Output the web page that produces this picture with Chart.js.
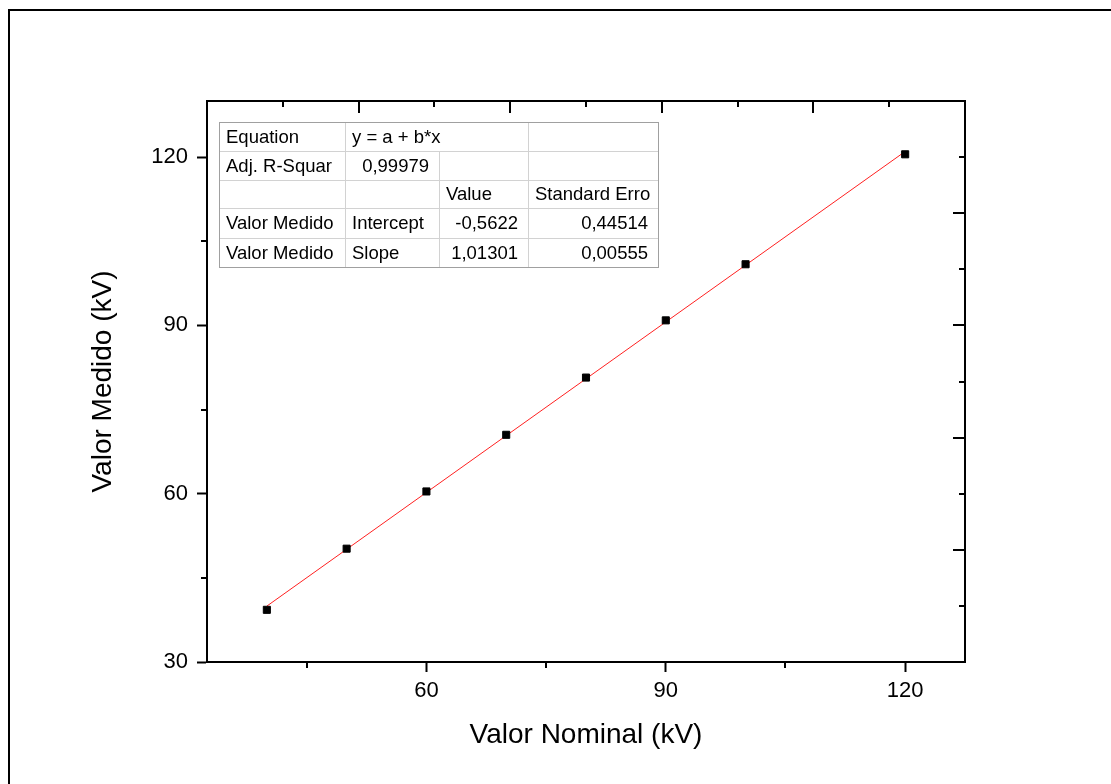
<!DOCTYPE html>
<html>
<head>
<meta charset="utf-8">
<script src="https://cdn.jsdelivr.net/npm/chart.js@4/dist/chart.umd.min.js"></script>
<style>
html, body { margin: 0; padding: 0; background: #fff; overflow: hidden; }
#wrap { position: relative; width: 1111px; height: 784px; }
#frame { position: absolute; left: 8px; top: 9px; width: 1200px; height: 900px; border: 2px solid #000; }
canvas { position: absolute; left: 0; top: 0; }
</style>
</head>
<body>
<div id="wrap">
  <div id="frame"></div>
  <canvas id="c" width="1111" height="784"></canvas>
</div>
<script>
// measured points
var nominal = [40, 50, 60, 70, 80, 90, 100, 120];
var measured = [39.3, 50.2, 60.4, 70.5, 80.7, 90.9, 100.9, 120.5];

// linear fit end points (y = -0.5622 + 1.01301 x)
var fitX = [40, 120];
var fitY = [39.96, 121.0];

// axis ticks
var xTicks = [60, 90, 120];
var xMinor = [45, 75, 105];
var yTicks = [30, 60, 90, 120];
var yMinor = [45, 75, 105];
var topMajor = [20, 40, 60, 80];
var topMinor = [10, 30, 50, 70, 90];
var rightMajor = [50, 70, 90, 110];
var rightMinor = [40, 60, 80, 100, 120];

// fit result table
var tableRows = [
  ['Equation', 'y = a + b*x', '', ''],
  ['Adj. R-Squar', '0,99979', '', ''],
  ['', '', 'Value', 'Standard Erro'],
  ['Valor Medido', 'Intercept', '-0,5622', '0,44514'],
  ['Valor Medido', 'Slope', '1,01301', '0,00555']
];

var FONT = '"Liberation Sans", Arial, sans-serif';

function pts(xs, ys) {
  var out = [];
  for (var i = 0; i < xs.length; i++) out.push({x: xs[i], y: ys[i]});
  return out;
}

var extraTicks = {
  id: 'extraTicks',
  afterDraw: function (chart) {
    var ctx = chart.ctx, a = chart.chartArea;
    var sx = chart.scales.x, sy = chart.scales.y, sx2 = chart.scales.x2, sy2 = chart.scales.y2;
    ctx.save();
    ctx.strokeStyle = '#000';
    ctx.lineWidth = 2;
    ctx.beginPath();
    xMinor.forEach(function (v) {
      var p = Math.round(sx.getPixelForValue(v));
      ctx.moveTo(p, a.bottom); ctx.lineTo(p, a.bottom + 6);
    });
    yMinor.forEach(function (v) {
      var p = Math.round(sy.getPixelForValue(v));
      ctx.moveTo(a.left, p); ctx.lineTo(a.left - 6, p);
    });
    topMajor.forEach(function (v) {
      var p = Math.round(sx2.getPixelForValue(v));
      ctx.moveTo(p, a.top); ctx.lineTo(p, a.top + 12);
    });
    topMinor.forEach(function (v) {
      var p = Math.round(sx2.getPixelForValue(v));
      ctx.moveTo(p, a.top); ctx.lineTo(p, a.top + 6);
    });
    rightMajor.forEach(function (v) {
      var p = Math.round(sy2.getPixelForValue(v));
      ctx.moveTo(a.right, p); ctx.lineTo(a.right - 12, p);
    });
    rightMinor.forEach(function (v) {
      var p = Math.round(sy2.getPixelForValue(v));
      ctx.moveTo(a.right, p); ctx.lineTo(a.right - 6, p);
    });
    ctx.stroke();

    // table
    var cx = [219, 345, 439, 528, 658];
    var ry = [122, 151, 180, 208, 238, 267];
    ctx.fillStyle = '#fff';
    ctx.fillRect(cx[0], ry[0], cx[4] - cx[0], ry[5] - ry[0]);
    ctx.strokeStyle = '#d2d2d2';
    ctx.lineWidth = 1;
    ctx.beginPath();
    for (var r = 1; r < 5; r++) {
      ctx.moveTo(cx[0], ry[r] + 0.5); ctx.lineTo(cx[4], ry[r] + 0.5);
    }
    for (var c = 1; c < 4; c++) {
      var y0 = (c === 2) ? ry[1] : ry[0];
      ctx.moveTo(cx[c] + 0.5, y0); ctx.lineTo(cx[c] + 0.5, ry[5]);
    }
    ctx.stroke();
    ctx.strokeStyle = '#a0a0a0';
    ctx.strokeRect(cx[0] + 0.5, ry[0] + 0.5, cx[4] - cx[0], ry[5] - ry[0]);

    ctx.fillStyle = '#000';
    ctx.font = '18.5px ' + FONT;
    ctx.textBaseline = 'middle';
    tableRows.forEach(function (row, r) {
      var ym = (ry[r] + ry[r + 1]) / 2 + 1;
      row.forEach(function (txt, c) {
        if (!txt) return;
        var right = (r === 1 && c === 1) || (r >= 3 && c >= 2);
        if (right) {
          ctx.textAlign = 'right';
          ctx.fillText(txt, cx[c + 1] - (c === 3 ? 10 : 10), ym);
        } else {
          ctx.textAlign = 'left';
          ctx.fillText(txt, cx[c] + 7, ym);
        }
      });
    });
    ctx.restore();
  }
};

new Chart(document.getElementById('c').getContext('2d'), {
  type: 'scatter',
  data: {
    datasets: [{
      label: 'Valor Medido',
      data: pts(nominal, measured),
      pointStyle: 'rect',
      pointRadius: 5,
      backgroundColor: '#000',
      borderColor: '#000',
      borderWidth: 1
    }, {
      label: 'Linear Fit',
      data: pts(fitX, fitY),
      showLine: true,
      borderColor: '#ff2020',
      borderWidth: 1,
      pointRadius: 0
    }]
  },
  options: {
    responsive: false,
    animation: false,
    layout: { padding: 0 },
    plugins: { legend: { display: false }, tooltip: { enabled: false } },
    scales: {
      x: {
        type: 'linear', position: 'bottom', min: 32.5, max: 127.5,
        afterBuildTicks: function (s) { s.ticks = xTicks.map(function (v) { return {value: v}; }); },
        afterFit: function (s) { s.height = 122; },
        grid: { display: true, drawOnChartArea: false, drawTicks: true, tickLength: 10, tickWidth: 2, tickColor: '#000' },
        border: { display: true, color: '#000', width: 2 },
        ticks: { color: '#000', font: { family: FONT, size: 22 }, padding: 6, maxRotation: 0, autoSkip: false },
        title: { display: true, text: 'Valor Nominal (kV)', color: '#000', font: { family: FONT, size: 28 }, padding: { top: 32, bottom: 32 } }
      },
      y: {
        type: 'linear', position: 'left', min: 30, max: 130,
        afterBuildTicks: function (s) { s.ticks = yTicks.map(function (v) { return {value: v}; }); },
        afterFit: function (s) { s.width = 207; },
        grid: { display: true, drawOnChartArea: false, drawTicks: true, tickLength: 10, tickWidth: 2, tickColor: '#000' },
        border: { display: true, color: '#000', width: 2 },
        ticks: { color: '#000', font: { family: FONT, size: 22 }, padding: 9, autoSkip: false },
        title: { display: true, text: 'Valor Medido (kV)', color: '#000', font: { family: FONT, size: 28 }, padding: { top: 86, bottom: 86 } }
      },
      x2: {
        type: 'linear', position: 'top', min: 0, max: 100,
        afterFit: function (s) { s.height = 101; },
        grid: { display: false },
        border: { display: true, color: '#000', width: 2 },
        ticks: { display: false }
      },
      y2: {
        type: 'linear', position: 'right', min: 30, max: 130,
        afterFit: function (s) { s.width = 146; },
        grid: { display: false },
        border: { display: true, color: '#000', width: 2 },
        ticks: { display: false }
      }
    }
  },
  plugins: [extraTicks]
});
</script>
</body>
</html>
